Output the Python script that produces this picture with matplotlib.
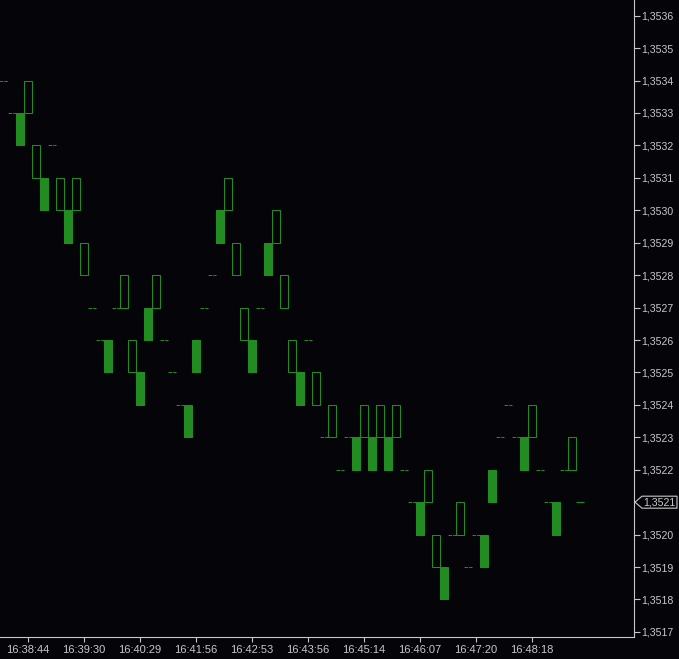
import matplotlib
matplotlib.use("Agg")
import matplotlib.pyplot as plt
from matplotlib.patches import Polygon

plt.rcParams["font.family"] = ["Liberation Sans", "DejaVu Sans"]
plt.rcParams["lines.scale_dashes"] = False

# bar open / close prices, one per bar (no wicks in the source)
opens = [1.3534, 1.3533, 1.3533, 1.3533, 1.3531, 1.3531, 1.3532, 1.3530, 1.3530, 1.3530,
         1.3528, 1.3527, 1.3526, 1.3526, 1.3527, 1.3527, 1.3525, 1.3525, 1.3527, 1.3527,
         1.3526, 1.3525, 1.3524, 1.3524, 1.3526, 1.3527, 1.3528, 1.3530, 1.3530, 1.3528,
         1.3526, 1.3526, 1.3527, 1.3529, 1.3529, 1.3527, 1.3525, 1.3525, 1.3526, 1.3524,
         1.3523, 1.3523, 1.3522, 1.3523, 1.3523, 1.3523, 1.3523, 1.3523, 1.3523, 1.3523,
         1.3522, 1.3521, 1.3521, 1.3521, 1.3519, 1.3519, 1.3520, 1.3520, 1.3519, 1.3520,
         1.3520, 1.3522, 1.3523, 1.3524, 1.3523, 1.3523, 1.3523, 1.3522, 1.3521, 1.3521,
         1.3522, 1.3522, 1.3521]
closes = [1.3534, 1.3533, 1.3532, 1.3534, 1.3532, 1.3530, 1.3532, 1.3531, 1.3529, 1.3531,
          1.3529, 1.3527, 1.3526, 1.3525, 1.3527, 1.3528, 1.3526, 1.3524, 1.3526, 1.3528,
          1.3526, 1.3525, 1.3524, 1.3523, 1.3525, 1.3527, 1.3528, 1.3529, 1.3531, 1.3529,
          1.3527, 1.3525, 1.3527, 1.3528, 1.3530, 1.3528, 1.3526, 1.3524, 1.3526, 1.3525,
          1.3523, 1.3524, 1.3522, 1.3523, 1.3522, 1.3524, 1.3522, 1.3524, 1.3522, 1.3524,
          1.3522, 1.3521, 1.3520, 1.3522, 1.3520, 1.3518, 1.3520, 1.3521, 1.3519, 1.3520,
          1.3519, 1.3521, 1.3523, 1.3524, 1.3523, 1.3522, 1.3524, 1.3522, 1.3521, 1.3520,
          1.3522, 1.3523, 1.3521]
time_ticks = [3, 10, 17, 24, 31, 38, 45, 52, 59, 66]
time_labels = ["16:38:44", "16:39:30", "16:40:29", "16:41:56", "16:42:53",
               "16:43:56", "16:45:14", "16:46:07", "16:47:20", "16:48:18"]
price_ticks = [1.3517 + i * 0.0001 for i in range(20)]
last_price = 1.3521

bg = "#050408"
green = "#228b22"
fg = "#c8c8c8"

fig = plt.figure(figsize=(6.79, 6.59), dpi=100, facecolor=bg)
ax = fig.add_axes([0, 22 / 659, 634 / 679, 637 / 659], facecolor=bg)

idx = list(range(len(opens)))
bull = [i for i in idx if closes[i] > opens[i]]
bear = [i for i in idx if closes[i] < opens[i]]
doji = [i for i in idx if closes[i] == opens[i]]

ax.bar(bull, [closes[i] - opens[i] for i in bull], bottom=[opens[i] for i in bull],
       width=1.0, facecolor="none", edgecolor=green, linewidth=0.75)
ax.bar(bear, [closes[i] - opens[i] for i in bear], bottom=[opens[i] for i in bear],
       width=1.0, facecolor=green, edgecolor=green, linewidth=0.75)
past = doji[:-1]
ax.hlines([opens[i] for i in past], [i - 0.5 for i in past], [i + 0.5 for i in past],
          colors=green, linewidth=0.75, linestyles=[(0, (2.6, 0.75))])
ax.hlines(opens[doji[-1]], doji[-1] - 0.5, doji[-1] + 0.5, colors=green, linewidth=0.9)

ax.set_xlim(-0.4375, 78.8125)
ax.set_ylim(1.3517 - 0.157e-4, 1.3536 + 0.484e-4)

for s in ["top", "left"]:
    ax.spines[s].set_visible(False)
for s in ["right", "bottom"]:
    ax.spines[s].set_color(fg)
    ax.spines[s].set_linewidth(0.8)

ax.yaxis.tick_right()
ax.set_yticks(price_ticks)
ax.set_yticklabels(["" if abs(p - last_price) < 1e-9 else f"{p:.4f}".replace(".", ",")
                    for p in price_ticks])
ax.set_xticks(time_ticks)
ax.set_xticklabels(time_labels)
ax.tick_params(axis="y", colors=fg, length=4.3, width=0.8, pad=0.6, labelsize=7.6)
ax.tick_params(axis="x", colors=fg, length=3.8, width=0.8, pad=2.2, labelsize=8)

# current price tag
tr = ax.get_yaxis_transform()
h = 6 / 32.43 * 1e-4
x0, x1, x2 = 1.0 + 1 / 634, 1.0 + 8 / 634, 1.0 + 43 / 634
tag = Polygon([(x0, last_price), (x1, last_price + h), (x2, last_price + h),
               (x2, last_price - h), (x1, last_price - h)], closed=True,
              transform=tr, facecolor=bg, edgecolor=fg, linewidth=0.8,
              clip_on=False, zorder=5)
ax.add_patch(tag)
ax.text(1.0 + 9 / 634, last_price, f"{last_price:.4f}".replace(".", ","),
        transform=tr, color=fg, fontsize=7.6, va="center", ha="left",
        clip_on=False, zorder=6)

fig.savefig("out.png", dpi=100, facecolor=bg)
